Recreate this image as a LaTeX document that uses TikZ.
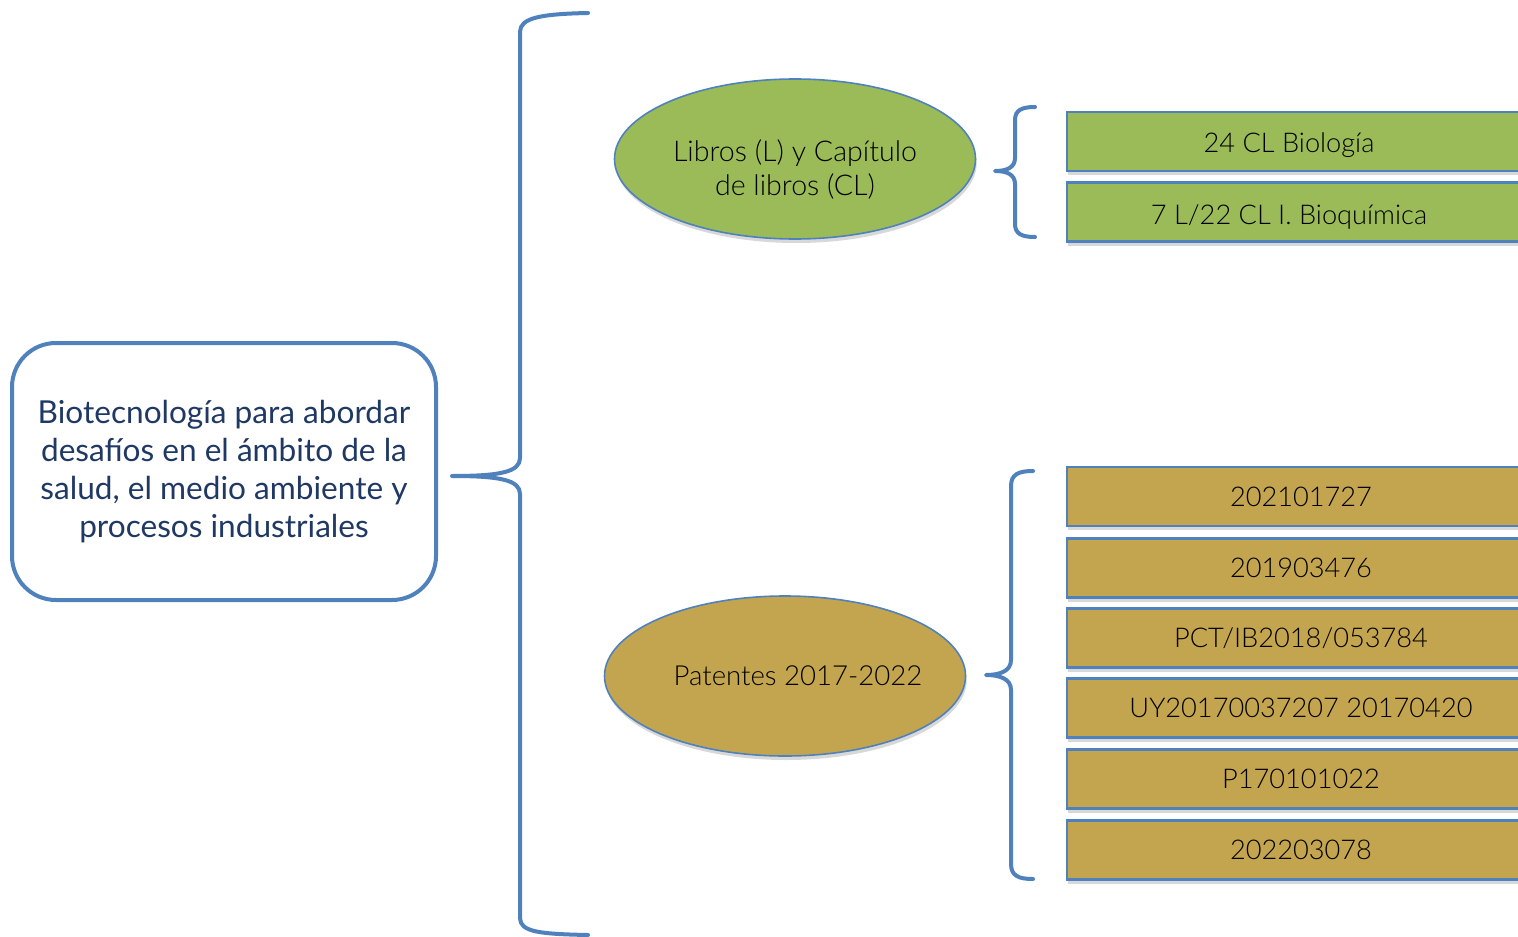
\documentclass[tikz,border=0pt]{standalone}
\usepackage{fontspec}
\setmainfont{Lato}
\newfontfamily\lightfont{Lato Light}
\usetikzlibrary{shapes.geometric,shadows}
\definecolor{bblue}{HTML}{4F81BD}
\definecolor{bgreen}{HTML}{9BBB59}
\definecolor{bgold}{HTML}{C4A54F}
\definecolor{navy}{HTML}{1F3864}
\begin{document}
\begin{tikzpicture}[x=0.5pt,y=-0.5pt,
  brace/.style={draw=bblue,line width=2pt,line cap=round,line join=round},
  mainbox/.style={rectangle,draw=bblue,line width=2pt,rounded corners=22pt,fill=white,
    text=navy,font=\fontsize{15.8}{19}\selectfont,align=center,
    minimum width=212pt,minimum height=128.5pt,inner sep=0pt},
  myshadow/.style={drop shadow={opacity=0.3,shadow xshift=0.6pt,shadow yshift=-2pt}},
  lighttext/.style={font=\lightfont\fontsize{14.3}{17}\selectfont,text=black},
  ell/.style={ellipse,draw=bblue,line width=0.8pt,minimum width=180.5pt,minimum height=80pt,
    inner sep=0pt,myshadow},
  itembox/.style={rectangle,draw=bblue,line width=1.1pt,minimum width=234pt,minimum height=29.5pt,
    inner sep=0pt,myshadow},
  itemtext/.style={font=\lightfont\fontsize{13.6}{17}\selectfont,text=black}
]
\useasboundingbox (0,0) rectangle (1518,936);
\clip (0,0) rectangle (1518,936);
\fill[white] (0,0) rectangle (1518,936);

% main box
\node[mainbox] (main) at (224,471.5) {Biotecnología para abordar\\desafíos en el ámbito de la\\salud, el medio ambiente y\\procesos industriales};

% big brace
\coordinate (bt) at (588,13);
\coordinate (btip) at (452,476);
\coordinate (bb) at (588,935);
\draw[brace] (bt) .. controls (540,14) and (520,18) .. (520,32) -- (520,458)
  .. controls (520,472) and (500,476) .. (btip)
  .. controls (500,476) and (520,480) .. (520,494) -- (520,918)
  .. controls (520,932) and (540,934) .. (bb);

% ellipses
\node[ell,fill=bgreen,label={[yshift=-5pt,lighttext,align=center]center:Libros (L) y Capítulo\\de libros (CL)}] (libros) at (795,159) {};
\node[ell,fill=bgold,label={[xshift=6.5pt,font=\lightfont\fontsize{13.8}{17}\selectfont]center:Patentes 2017-2022}] (pat) at (785,676) {};

% small brace 1
\coordinate (s1t) at (1035,107);
\coordinate (s1tip) at (995,171);
\coordinate (s1b) at (1035,237);
\draw[brace] (s1t) .. controls (1022,107) and (1015,110) .. (1015,120) -- (1015,158)
  .. controls (1015,168) and (1006,171) .. (s1tip)
  .. controls (1006,171) and (1015,174) .. (1015,184) -- (1015,224)
  .. controls (1015,234) and (1022,237) .. (s1b);

% small brace 2
\coordinate (s2t) at (1033,471);
\coordinate (s2tip) at (986,675);
\coordinate (s2b) at (1033,879);
\draw[brace] (s2t) .. controls (1019,471) and (1011,474) .. (1011,486) -- (1011,660)
  .. controls (1011,671) and (1000,675) .. (s2tip)
  .. controls (1000,675) and (1011,679) .. (1011,690) -- (1011,864)
  .. controls (1011,876) and (1019,879) .. (s2b);

% green items
\node[itembox,fill=bgreen,label={[xshift=-6pt,yshift=-2pt,itemtext]center:24 CL Biología}] (g1) at (1301,141.5) {};
\node[itembox,fill=bgreen,label={[xshift=-6pt,yshift=-2.5pt,itemtext]center:7 L/22 CL I. Bioquímica}] (g2) at (1301,212) {};

% gold items
\node[itembox,fill=bgold,label={[itemtext]center:202101727}] (p1) at (1301,496.5) {};
\node[itembox,fill=bgold,label={[itemtext]center:201903476}] (p2) at (1301,568) {};
\node[itembox,fill=bgold,label={[itemtext]center:PCT/IB2018/053784}] (p3) at (1301,638) {};
\node[itembox,fill=bgold,label={[itemtext]center:UY20170037207 20170420}] (p4) at (1301,708) {};
\node[itembox,fill=bgold,label={[itemtext]center:P170101022}] (p5) at (1301,779) {};
\node[itembox,fill=bgold,label={[itemtext]center:202203078}] (p6) at (1301,850) {};
\end{tikzpicture}
\end{document}
